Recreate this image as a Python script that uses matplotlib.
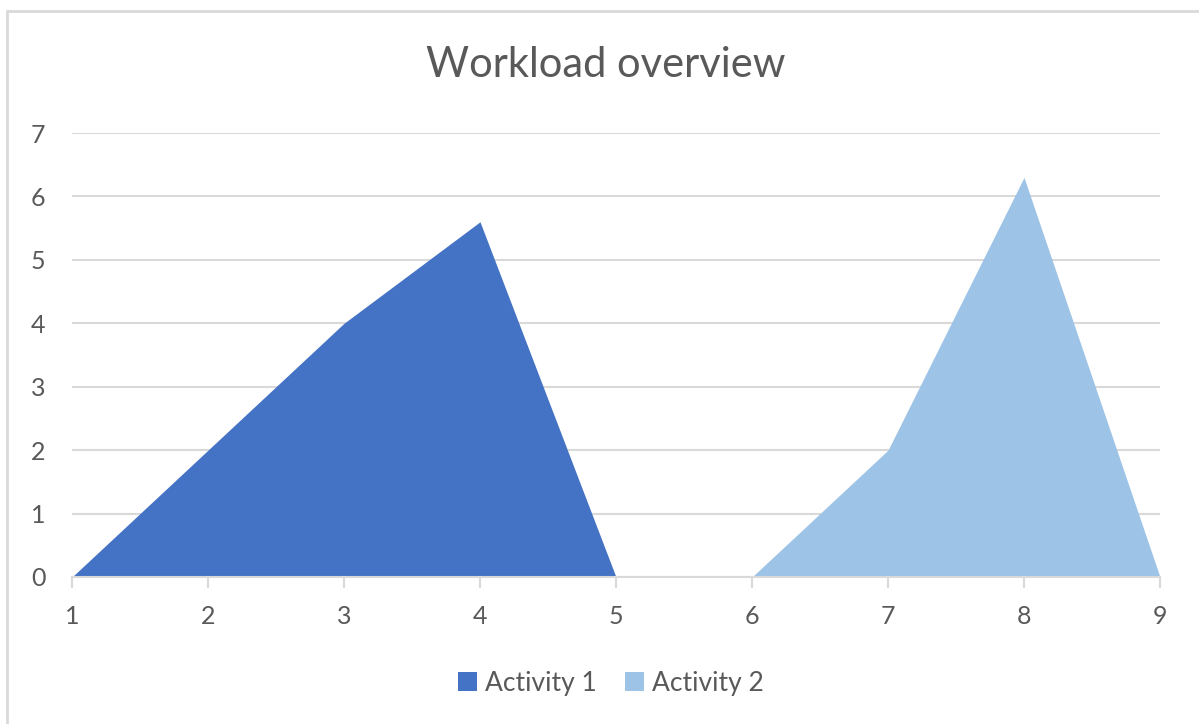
import matplotlib
matplotlib.use("Agg")
import matplotlib.pyplot as plt
from matplotlib.patches import Rectangle, Patch

x1 = [1, 2, 3, 4, 5]
activity1 = [0, 2, 4, 5.6, 0]
x2 = [6, 7, 8, 9]
activity2 = [0, 2, 6.3, 0]
xticks = [1, 2, 3, 4, 5, 6, 7, 8, 9]
yticks = [0, 1, 2, 3, 4, 5, 6, 7]
series_names = ["Activity 1", "Activity 2"]
colors = ["#4472C4", "#9DC3E6"]
title = "Workload overview"

plt.rcParams['font.family'] = ['Lato', 'DejaVu Sans']
txt = "#595959"

fig = plt.figure(figsize=(11.99, 7.24), dpi=100)
# outer chart frame (left/top visible)
fig.patches.append(Rectangle((7/1199, -0.05), 1.2, 1 - 11/724 + 0.05,
                             transform=fig.transFigure, fill=False,
                             edgecolor="#d9d9d9", linewidth=2, zorder=0))

ax = fig.add_axes([72/1199, 1 - 577/724, (1160 - 72)/1199, (577 - 133)/724])
ax.fill_between(x1, activity1, 0, color=colors[0], linewidth=0, zorder=2)
ax.fill_between(x2, activity2, 0, color=colors[1], linewidth=0, zorder=2)

ax.set_xlim(1, 9)
ax.set_ylim(0, 7)
ax.set_xticks(xticks)
ax.set_yticks(yticks)
ax.grid(axis='y', color="#d9d9d9", linewidth=1.5, zorder=1)
ax.set_axisbelow(True)
for s in ['top', 'right', 'left']:
    ax.spines[s].set_visible(False)
ax.spines['bottom'].set_color("#d9d9d9")
ax.spines['bottom'].set_linewidth(1.5)
ax.spines['bottom'].set_zorder(3)
ax.tick_params(axis='x', colors="#d9d9d9", length=8, width=1.5, labelcolor=txt,
               labelsize=18, pad=12)
ax.tick_params(axis='y', length=0, labelcolor=txt, labelsize=18, pad=19)

fig.text(606/1199, 1 - 65/724, title, ha='center', va='center', fontsize=30, color=txt)

handles = [Patch(facecolor=c, edgecolor='none') for c in colors]
fig.legend(handles, series_names, loc='center', bbox_to_anchor=(611/1199, 1 - 683/724),
           ncol=2, frameon=False, fontsize=19, labelcolor=txt,
           handlelength=0.72, handleheight=0.72, handletextpad=0.3, columnspacing=1.1)

fig.savefig("out.png", dpi=100)
